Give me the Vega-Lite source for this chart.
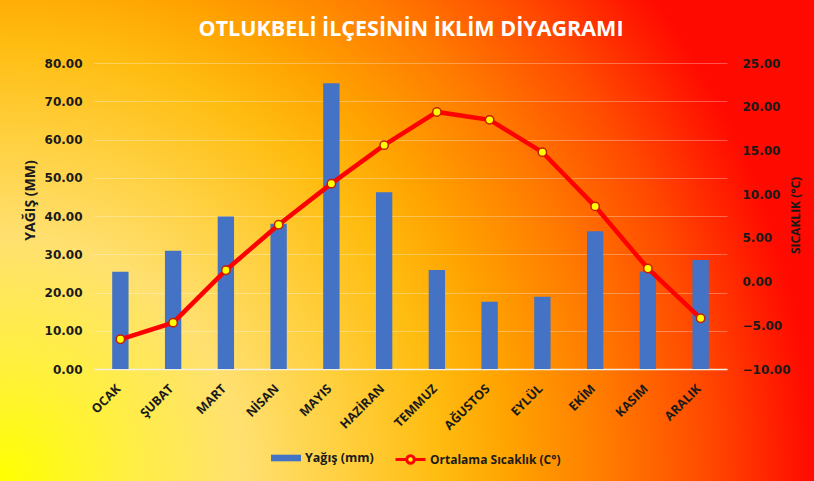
{
  "$schema": "https://vega.github.io/schema/vega-lite/v6.json",
  "width": 814,
  "height": 481,
  "autosize": {"type": "none"},
  "padding": 0,
  "background": "white",
  "view": {
    "stroke": null,
    "fill": {
      "gradient": "radial",
      "x1": 0, "y1": 0.7955, "r1": 0,
      "x2": 0, "y2": 0.7955, "r2": 1,
      "stops": [
        {"offset": 0, "color": "#FFFF00"},
        {"offset": 0.15, "color": "#FFF040"},
        {"offset": 0.3, "color": "#FFE070"},
        {"offset": 0.42, "color": "#FFD040"},
        {"offset": 0.54, "color": "#FFBC10"},
        {"offset": 0.63, "color": "#FFA200"},
        {"offset": 0.75, "color": "#FF7A00"},
        {"offset": 0.87, "color": "#FF4A00"},
        {"offset": 0.97, "color": "#FF1800"},
        {"offset": 1, "color": "#FF0A00"}
      ]
    }
  },
  "title": {
    "text": "OTLUKBELİ İLÇESİNİN İKLİM DİYAGRAMI",
    "font": "Open Sans",
    "fontSize": 21.5,
    "fontWeight": "bold",
    "color": "white",
    "anchor": "middle",
    "frame": "group",
    "offset": -40,
    "dx": 4
  },
  "data": {
    "values": [
      {"month": "OCAK", "rain": 25.4, "temp": -6.6},
      {"month": "ŞUBAT", "rain": 30.9, "temp": -4.7},
      {"month": "MART", "rain": 39.9, "temp": 1.3},
      {"month": "NİSAN", "rain": 38.0, "temp": 6.5},
      {"month": "MAYIS", "rain": 74.7, "temp": 11.2},
      {"month": "HAZİRAN", "rain": 46.2, "temp": 15.6},
      {"month": "TEMMUZ", "rain": 25.9, "temp": 19.4},
      {"month": "AĞUSTOS", "rain": 17.6, "temp": 18.5},
      {"month": "EYLÜL", "rain": 18.9, "temp": 14.8},
      {"month": "EKİM", "rain": 36.0, "temp": 8.6},
      {"month": "KASIM", "rain": 25.5, "temp": 1.5},
      {"month": "ARALIK", "rain": 28.5, "temp": -4.2}
    ]
  },
  "encoding": {
    "x": {
      "field": "month",
      "type": "nominal",
      "sort": null,
      "scale": {"range": [94, 727], "paddingInner": 0, "paddingOuter": 0},
      "axis": {
        "title": null,
        "orient": "bottom",
        "offset": -112,
        "labelAngle": -45,
        "labelAlign": "right",
        "labelBaseline": "top",
        "labelFont": "Open Sans",
        "labelFontWeight": "bold",
        "labelFontSize": 12.5,
        "labelColor": "#1a1a1a",
        "labelPadding": 13,
        "labelOffset": -6,
        "ticks": false,
        "domain": true,
        "domainColor": "#F4F0E0",
        "domainWidth": 1.5,
        "grid": false
      }
    }
  },
  "layer": [
    {
      "mark": {"type": "bar", "width": {"band": 0.31}},
      "encoding": {
        "y": {
          "field": "rain",
          "type": "quantitative",
          "scale": {"domain": [0, 80], "range": [369, 63], "nice": false},
          "axis": {
            "orient": "left",
            "offset": -94,
            "title": "YAĞIŞ (MM)",
            "titleFont": "Open Sans",
            "titleFontWeight": "bold",
            "titleFontSize": 14,
            "titleColor": "#1a1a1a",
            "titleX": -64,
            "titleY": 200,
            "titleAngle": -90,
            "titleAlign": "center",
            "titleBaseline": "middle",
            "values": [0, 10, 20, 30, 40, 50, 60, 70, 80],
            "format": ".2f",
            "labelFont": "DejaVu Sans",
            "labelFontWeight": "bold",
            "labelFontSize": 12,
            "labelColor": "#1a1a1a",
            "labelPadding": 12,
            "ticks": false,
            "domain": false,
            "grid": true,
            "gridColor": "white",
            "gridOpacity": 0.3
          }
        },
        "fill": {
          "datum": "Yağış (mm)",
          "type": "nominal",
          "scale": {"domain": ["Yağış (mm)"], "range": ["#4472C4"]},
          "legend": {
            "orient": "none",
            "legendX": 271,
            "legendY": 443,
            "title": null,
            "symbolType": "M-1,-0.22H1V0.22H-1Z",
            "symbolSize": 900,
            "symbolStrokeWidth": 0,
            "labelFont": "Open Sans",
            "labelFontWeight": "bold",
            "labelFontSize": 12.5,
            "labelColor": "#1a1a1a",
            "labelOffset": 4
          }
        }
      }
    },
    {
      "encoding": {
        "y": {
          "field": "temp",
          "type": "quantitative",
          "scale": {"domain": [-10, 25], "range": [369, 63], "nice": false, "zero": false},
          "axis": {
            "orient": "right",
            "offset": -87,
            "title": "SICAKLIK (°C)",
            "titleFont": "Open Sans",
            "titleFontWeight": "bold",
            "titleFontSize": 12,
            "titleColor": "#1a1a1a",
            "titleX": 68,
            "titleY": 215,
            "titleAngle": -90,
            "titleAlign": "center",
            "titleBaseline": "middle",
            "values": [-10, -5, 0, 5, 10, 15, 20, 25],
            "format": ".2f",
            "labelFont": "DejaVu Sans",
            "labelFontWeight": "bold",
            "labelFontSize": 12,
            "labelColor": "#1a1a1a",
            "labelPadding": 15,
            "ticks": false,
            "domain": false,
            "grid": false
          }
        }
      },
      "layer": [
        {
          "mark": {"type": "line", "strokeWidth": 4.5},
          "encoding": {
            "stroke": {
              "datum": "Ortalama Sıcaklık (C°)",
              "type": "nominal",
              "scale": {"domain": ["Ortalama Sıcaklık (C°)"], "range": ["#FF0000"]},
              "legend": {
                "orient": "none",
                "legendX": 394,
                "legendY": 443,
                "title": null,
                "symbolType": "M-1,0H-0.25M0.25,0H1M0.25,0A0.25,0.25 0 1,1 -0.25,0A0.25,0.25 0 1,1 0.25,0",
                "symbolSize": 900,
                "symbolStrokeWidth": 3,
                "symbolFillColor": "#FFFF00",
                "labelFont": "Open Sans",
                "labelFontWeight": "bold",
                "labelFontSize": 12,
                "labelColor": "#1a1a1a",
                "labelOffset": 3
              }
            }
          }
        },
        {
          "mark": {
            "type": "point",
            "filled": true,
            "fill": "#FFFF00",
            "stroke": "#C81E00",
            "strokeWidth": 1.5,
            "size": 70,
            "opacity": 1
          }
        }
      ]
    }
  ],
  "resolve": {"scale": {"y": "independent"}}
}
